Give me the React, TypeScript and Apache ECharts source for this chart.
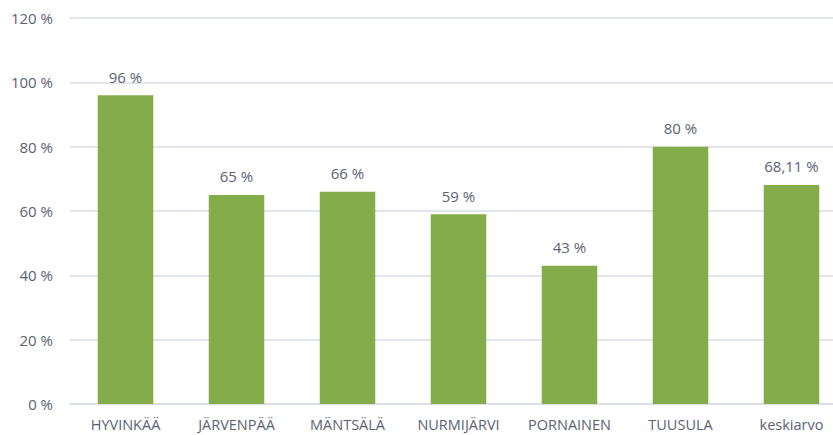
import React, { useEffect, useRef } from "react";
import * as echarts from "echarts";

const categories = ["HYVINKÄÄ", "JÄRVENPÄÄ", "MÄNTSÄLÄ", "NURMIJÄRVI", "PORNAINEN", "TUUSULA", "keskiarvo"];
const values = [96, 65, 66, 59, 43, 80, 68.11];
const yTicks = [0, 20, 40, 60, 80, 100, 120];

const textColor = "#5a6272";
const font = "'Open Sans', 'Noto Sans', sans-serif";

export default function App() {
  const ref = useRef<HTMLDivElement>(null);
  useEffect(() => {
    if (!ref.current) return;
    const chart = echarts.init(ref.current, undefined, { renderer: "svg" });
    chart.setOption({
      animation: false,
      backgroundColor: "#ffffff",
      grid: { left: 70, top: 18, width: 777, bottom: 31, containLabel: false },
      xAxis: {
        type: "category",
        data: categories,
        axisLine: { show: true, lineStyle: { color: "#d9dee6", width: 1.5 } },
        axisTick: { show: false },
        axisLabel: { color: textColor, fontSize: 14.5, fontFamily: font, margin: 13, interval: 0 },
      },
      yAxis: {
        type: "value",
        min: yTicks[0],
        max: yTicks[yTicks.length - 1],
        interval: 20,
        axisLine: { show: false },
        axisTick: { show: false },
        splitLine: { lineStyle: { color: "#d9dee6", width: 1.5 } },
        axisLabel: {
          color: textColor,
          fontSize: 15,
          fontFamily: font,
          margin: 17,
          formatter: (v: number) => `${v} %`,
        },
      },
      series: [
        {
          type: "bar",
          data: values,
          barWidth: "50%",
          itemStyle: { color: "#84ac4a" },
          label: {
            show: true,
            position: "top",
            distance: 11,
            color: textColor,
            fontSize: 15,
            fontFamily: font,
            formatter: (p: any) => `${String(p.value).replace(".", ",")} %`,
          },
        },
      ],
    });
    return () => chart.dispose();
  }, []);
  return (
    <div style={{ width: 833, height: 435, position: "absolute", left: 0, top: 0, overflow: "hidden", background: "#fff" }}>
      <div ref={ref} style={{ width: 850, height: 435 }} />
    </div>
  );
}
